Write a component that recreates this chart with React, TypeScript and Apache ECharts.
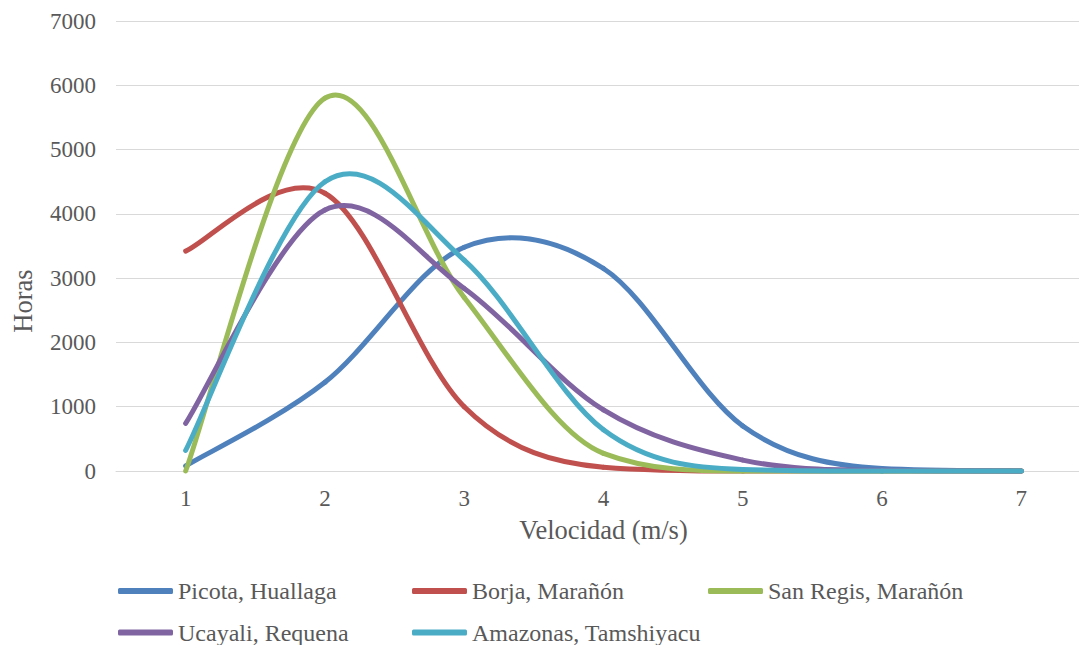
import React, { useEffect, useRef } from "react";
import * as echarts from "echarts";

const velocities = ["1", "2", "3", "4", "5", "6", "7"];
const seriesNames = [
  "Picota, Huallaga",
  "Borja, Marañón",
  "San Regis, Marañón",
  "Ucayali, Requena",
  "Amazonas, Tamshiyacu",
];
const picota = [80, 1380, 3480, 3150, 700, 40, 0];
const borja = [3420, 4320, 1000, 60, 0, 0, 0];
const sanRegis = [0, 5800, 2700, 275, 0, 0, 0];
const ucayali = [740, 4060, 2840, 950, 170, 10, 0];
const amazonas = [320, 4500, 3280, 640, 25, 0, 0];
const allValues = [picota, borja, sanRegis, ucayali, amazonas];
const colors = ["#4F81BD", "#C0504D", "#9BBB59", "#8064A2", "#4BACC6"];

const FONT = "Liberation Serif";
const TEXT = "#595959";

function makeRenderItem(values: number[], color: string) {
  return (params: any, api: any) => {
    if (params.dataIndex !== 0) return null;
    const pts = values.map((v, i) => api.coord([i, v]));
    const yZero = api.coord([0, 0])[1];
    const n = pts.length;
    // Catmull-Rom style control offsets, limited so the curve never dips under zero
    const tan = pts.map((p, i) => {
      const prev = pts[Math.max(i - 1, 0)];
      const next = pts[Math.min(i + 1, n - 1)];
      const dx = (next[0] - prev[0]) / 6;
      let dy = (next[1] - prev[1]) / 6;
      const limit = Math.max(yZero - p[1], 0);
      const goesDown = (dy > 0 && i < n - 1) || (dy < 0 && i > 0);
      if (goesDown && Math.abs(dy) > limit) dy = Math.sign(dy) * limit;
      return [dx, dy];
    });
    const children: any[] = [];
    for (let i = 0; i < n - 1; i++) {
      const p1 = pts[i];
      const p2 = pts[i + 1];
      children.push({
        type: "bezierCurve",
        shape: {
          x1: p1[0],
          y1: p1[1],
          cpx1: p1[0] + tan[i][0],
          cpy1: p1[1] + tan[i][1],
          cpx2: p2[0] - tan[i + 1][0],
          cpy2: p2[1] - tan[i + 1][1],
          x2: p2[0],
          y2: p2[1],
        },
        style: { stroke: color, lineWidth: 5, fill: "none", lineCap: "round" },
      });
    }
    return { type: "group", children };
  };
}

const legendPos = [
  [118, 579],
  [412, 579],
  [708, 579],
  [118, 620.5],
  [412, 620.5],
];

export default function App() {
  const ref = useRef<HTMLDivElement>(null);
  useEffect(() => {
    if (!ref.current) return;
    const chart = echarts.init(ref.current, undefined, { renderer: "svg" });
    chart.setOption({
      animation: false,
      backgroundColor: "#ffffff",
      textStyle: { fontFamily: FONT, color: TEXT },
      grid: { left: 116, top: 21, width: 975, height: 450, outerBoundsMode: "none" },
      xAxis: {
        type: "category",
        data: velocities,
        boundaryGap: true,
        axisTick: { show: false },
        axisLine: { lineStyle: { color: "#D9D9D9", width: 1 } },
        axisLabel: { color: TEXT, fontFamily: FONT, fontSize: 23, margin: 16 },
        name: "Velocidad (m/s)",
        nameLocation: "middle",
        nameGap: 45,
        nameTextStyle: { color: TEXT, fontFamily: FONT, fontSize: 26.5 },
      },
      yAxis: {
        type: "value",
        min: 0,
        max: 7000,
        interval: 1000,
        axisLine: { show: false },
        axisTick: { show: false },
        axisLabel: {
          color: TEXT,
          fontFamily: FONT,
          fontSize: 23,
          margin: 20,
          formatter: (v: number) => String(v),
        },
        splitLine: { lineStyle: { color: "#D9D9D9", width: 1 } },
      },
      legend: seriesNames.map((name, i) => ({
        data: [name],
        left: legendPos[i][0],
        top: legendPos[i][1],
        padding: 0,
        itemWidth: 55,
        itemHeight: 6,
        icon: "roundRect",
        selectedMode: false,
        textStyle: { color: TEXT, fontFamily: FONT, fontSize: 24 },
      })),
      graphic: [
        {
          type: "text",
          x: 23,
          y: 301,
          rotation: Math.PI / 2,
          style: {
            text: "Horas",
            font: `26.5px ${FONT}`,
            fill: TEXT,
            textAlign: "center",
            textVerticalAlign: "middle",
          },
        },
      ],
      series: seriesNames.map((name, i) => ({
        type: "custom",
        name,
        itemStyle: { color: colors[i] },
        encode: { x: 0, y: 1 },
        data: allValues[i].map((v, j) => [j, v]),
        renderItem: makeRenderItem(allValues[i], colors[i]),
      })),
    });
    return () => chart.dispose();
  }, []);
  return (
    <div
      ref={ref}
      style={{ position: "absolute", left: 0, top: 0, width: 1079, height: 645 }}
    />
  );
}
